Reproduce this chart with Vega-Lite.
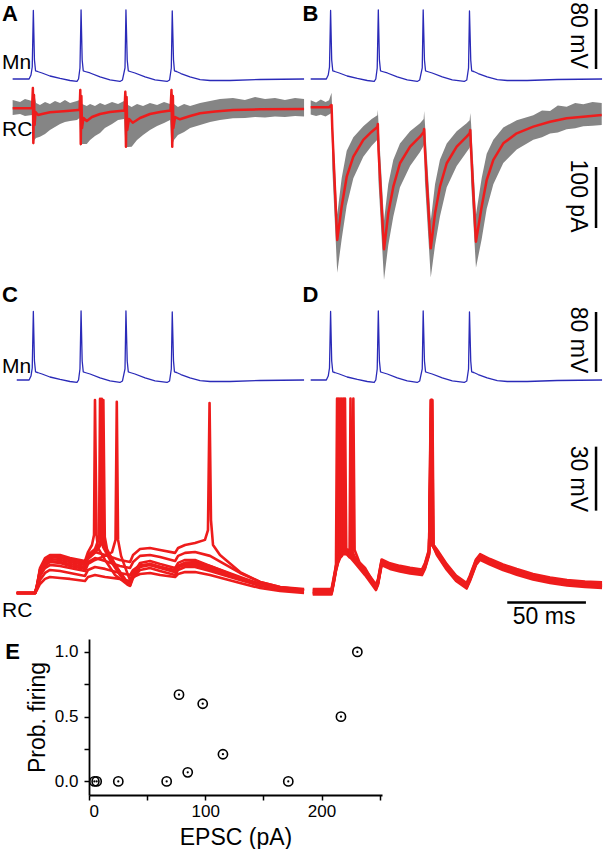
{
"$schema": "https://vega.github.io/schema/vega-lite/v6.json",
"padding": 0,
"spacing": 0,
"config": {"view": {"stroke": null}, "font": "Liberation Sans", "text": {"color": "black"}},
"datasets": {
"mnA": [{"t":8.0,"v":-65},{"t":18.4,"v":-65},{"t":19.6,"v":-59.7},{"t":20.4,"v":-49},{"t":21.1,"v":26.3},{"t":21.8,"v":-39.7},{"t":22.5,"v":-54.3},{"t":23.7,"v":-55},{"t":26.6,"v":-57},{"t":31.6,"v":-61},{"t":38.0,"v":-64.3},{"t":44.3,"v":-67},{"t":48.7,"v":-68.3},{"t":49.7,"v":-65},{"t":50.6,"v":-50.3},{"t":51.3,"v":27},{"t":52.0,"v":-39.7},{"t":52.7,"v":-54.3},{"t":53.8,"v":-55},{"t":57.0,"v":-57},{"t":63.3,"v":-62.3},{"t":69.6,"v":-66.3},{"t":75.9,"v":-68.3},{"t":77.5,"v":-66.3},{"t":79.1,"v":-50.3},{"t":79.7,"v":27},{"t":80.5,"v":-39.7},{"t":81.2,"v":-54.3},{"t":82.3,"v":-55},{"t":85.4,"v":-57},{"t":91.8,"v":-62.3},{"t":98.1,"v":-66.3},{"t":105.7,"v":-68.3},{"t":107.3,"v":-66.3},{"t":108.4,"v":-50.3},{"t":109.0,"v":25.7},{"t":109.8,"v":-39.7},{"t":110.4,"v":-54.3},{"t":111.7,"v":-55},{"t":114.5,"v":-57.7},{"t":120.2,"v":-62.3},{"t":126.6,"v":-65.7},{"t":132.9,"v":-67},{"t":145.5,"v":-67},{"t":164.5,"v":-65.7},{"t":192.4,"v":-65}],
"mnC": [{"t":10.6,"v":-65},{"t":18.4,"v":-65},{"t":19.6,"v":-59.7},{"t":20.4,"v":-49},{"t":21.1,"v":26.3},{"t":21.8,"v":-39.7},{"t":22.5,"v":-54.3},{"t":23.7,"v":-55},{"t":26.6,"v":-57},{"t":31.6,"v":-61},{"t":38.0,"v":-64.3},{"t":44.3,"v":-67},{"t":48.7,"v":-68.3},{"t":49.7,"v":-65},{"t":50.6,"v":-50.3},{"t":51.3,"v":27},{"t":52.0,"v":-39.7},{"t":52.7,"v":-54.3},{"t":53.8,"v":-55},{"t":57.0,"v":-57},{"t":63.3,"v":-62.3},{"t":69.6,"v":-66.3},{"t":75.9,"v":-68.3},{"t":77.5,"v":-66.3},{"t":79.1,"v":-50.3},{"t":79.7,"v":27},{"t":80.5,"v":-39.7},{"t":81.2,"v":-54.3},{"t":82.3,"v":-55},{"t":85.4,"v":-57},{"t":91.8,"v":-62.3},{"t":98.1,"v":-66.3},{"t":105.7,"v":-68.3},{"t":107.3,"v":-66.3},{"t":108.4,"v":-50.3},{"t":109.0,"v":25.7},{"t":109.8,"v":-39.7},{"t":110.4,"v":-54.3},{"t":111.7,"v":-55},{"t":114.5,"v":-57.7},{"t":120.2,"v":-62.3},{"t":126.6,"v":-65.7},{"t":132.9,"v":-67},{"t":145.5,"v":-67},{"t":164.5,"v":-65.7},{"t":192.4,"v":-65}],
"mnB": [{"t":3.6,"v":-65},{"t":13.5,"v":-65},{"t":14.7,"v":-59.7},{"t":15.5,"v":-49},{"t":16.2,"v":26.3},{"t":16.9,"v":-39.7},{"t":17.6,"v":-54.3},{"t":18.8,"v":-55},{"t":21.7,"v":-57},{"t":26.7,"v":-61},{"t":33.1,"v":-64.3},{"t":39.4,"v":-67},{"t":43.8,"v":-68.3},{"t":44.8,"v":-65},{"t":45.7,"v":-50.3},{"t":46.4,"v":27},{"t":47.1,"v":-39.7},{"t":47.8,"v":-54.3},{"t":48.9,"v":-55},{"t":52.1,"v":-57},{"t":58.4,"v":-62.3},{"t":64.7,"v":-66.3},{"t":71.0,"v":-68.3},{"t":72.6,"v":-66.3},{"t":74.2,"v":-50.3},{"t":74.8,"v":27},{"t":75.6,"v":-39.7},{"t":76.3,"v":-54.3},{"t":77.4,"v":-55},{"t":80.5,"v":-57},{"t":86.9,"v":-62.3},{"t":93.2,"v":-66.3},{"t":100.8,"v":-68.3},{"t":102.4,"v":-66.3},{"t":103.5,"v":-50.3},{"t":104.1,"v":25.7},{"t":104.9,"v":-39.7},{"t":105.5,"v":-54.3},{"t":106.8,"v":-55},{"t":109.6,"v":-57.7},{"t":115.3,"v":-62.3},{"t":121.7,"v":-65.7},{"t":128.0,"v":-67},{"t":140.6,"v":-67},{"t":159.6,"v":-65.7},{"t":188.0,"v":-65}],
"rcAred": [{"t":8.0,"i":-0.5},{"t":20.3,"i":0},{"t":20.8,"i":32.8},{"t":21.1,"i":-57.4},{"t":21.5,"i":21.3},{"t":21.9,"i":-27.9},{"t":22.5,"i":-6.6},{"t":24.1,"i":-11.5},{"t":26.6,"i":-9.8},{"t":31.6,"i":-7.0},{"t":38.0,"i":-5.7},{"t":42.4,"i":-4.9},{"t":49.4,"i":-3.3},{"t":50.4,"i":-3.3},{"t":50.8,"i":29.5},{"t":51.1,"i":-59.0},{"t":51.5,"i":19.7},{"t":51.9,"i":-32.8},{"t":52.8,"i":-16.4},{"t":54.9,"i":-21.3},{"t":58.2,"i":-14.8},{"t":63.3,"i":-9.8},{"t":69.6,"i":-6.6},{"t":78.8,"i":-4.1},{"t":79.3,"i":26.7},{"t":79.7,"i":-63.4},{"t":80.1,"i":18.0},{"t":80.5,"i":-36.1},{"t":81.6,"i":-18.0},{"t":84.0,"i":-24.1},{"t":88.6,"i":-16.4},{"t":94.9,"i":-9.8},{"t":101.3,"i":-6.6},{"t":107.9,"i":-4.1},{"t":108.5,"i":29.5},{"t":109.0,"i":-63.4},{"t":109.4,"i":19.7},{"t":109.7,"i":-32.8},{"t":110.8,"i":-14.8},{"t":113.9,"i":-18.5},{"t":120.3,"i":-13.1},{"t":126.6,"i":-8.7},{"t":136.1,"i":-5.7},{"t":147.5,"i":-3.3},{"t":164.6,"i":-2.1},{"t":192.4,"i":-1.6}],
"rcAgray": [{"t":8.0,"hi":13.1,"lo":-11.5},{"t":12.7,"hi":9.8,"lo":-9.8},{"t":15.8,"hi":14.8,"lo":-13.1},{"t":20.3,"hi":11.5,"lo":-11.5},{"t":20.9,"hi":36.1,"lo":-60.6},{"t":21.8,"hi":21.3,"lo":-52.4},{"t":22.8,"hi":8.2,"lo":-49.2},{"t":25.3,"hi":4.9,"lo":-47.0},{"t":28.5,"hi":9.8,"lo":-42.6},{"t":31.6,"hi":6.6,"lo":-36.1},{"t":34.8,"hi":11.5,"lo":-31.1},{"t":38.0,"hi":8.2,"lo":-26.2},{"t":41.1,"hi":13.1,"lo":-22.9},{"t":44.3,"hi":8.2,"lo":-21.3},{"t":48.7,"hi":11.5,"lo":-19.7},{"t":50.3,"hi":13.1,"lo":-16.4},{"t":50.9,"hi":32.8,"lo":-62.3},{"t":51.9,"hi":6.6,"lo":-59.0},{"t":54.9,"hi":3.3,"lo":-59.0},{"t":57.0,"hi":6.6,"lo":-52.4},{"t":60.1,"hi":3.3,"lo":-45.9},{"t":63.3,"hi":8.2,"lo":-41.0},{"t":66.4,"hi":4.9,"lo":-32.8},{"t":70.9,"hi":9.8,"lo":-26.2},{"t":74.7,"hi":6.6,"lo":-19.7},{"t":78.5,"hi":11.5,"lo":-18.0},{"t":79.4,"hi":29.5,"lo":-63.9},{"t":81.0,"hi":4.9,"lo":-63.9},{"t":83.3,"hi":1.6,"lo":-63.4},{"t":86.7,"hi":6.6,"lo":-52.4},{"t":90.5,"hi":3.3,"lo":-44.3},{"t":94.9,"hi":8.2,"lo":-36.1},{"t":99.4,"hi":4.9,"lo":-29.5},{"t":103.8,"hi":9.8,"lo":-24.6},{"t":107.6,"hi":6.6,"lo":-19.7},{"t":108.5,"hi":32.8,"lo":-63.9},{"t":110.1,"hi":6.6,"lo":-52.4},{"t":112.6,"hi":1.6,"lo":-44.3},{"t":116.5,"hi":6.6,"lo":-39.3},{"t":120.3,"hi":3.3,"lo":-32.8},{"t":126.6,"hi":8.2,"lo":-27.9},{"t":132.9,"hi":11.5,"lo":-22.9},{"t":139.2,"hi":14.8,"lo":-19.7},{"t":147.4,"hi":16.4,"lo":-16.9},{"t":155.0,"hi":13.1,"lo":-16.4},{"t":161.4,"hi":18.0,"lo":-14.8},{"t":167.7,"hi":14.8,"lo":-15.6},{"t":174.0,"hi":16.4,"lo":-13.9},{"t":180.3,"hi":13.1,"lo":-14.8},{"t":186.7,"hi":16.4,"lo":-13.1},{"t":192.4,"hi":14.8,"lo":-13.9}],
"rcBred": [{"t":3.6,"i":1.1},{"t":15.2,"i":1.1},{"t":16.8,"i":4.9},{"t":17.3,"i":-36.1},{"t":20.4,"i":-216.3},{"t":23.2,"i":-161.8},{"t":26.4,"i":-112.6},{"t":30.6,"i":-79.8},{"t":36.9,"i":-52.4},{"t":42.2,"i":-38.8},{"t":45.8,"i":-31.1},{"t":46.1,"i":-26.2},{"t":46.5,"i":-68.8},{"t":50.0,"i":-231.6},{"t":52.7,"i":-172.6},{"t":55.9,"i":-129.0},{"t":60.1,"i":-90.6},{"t":66.5,"i":-63.4},{"t":72.8,"i":-47.0},{"t":75.1,"i":-39.3},{"t":75.4,"i":-34.4},{"t":75.9,"i":-68.8},{"t":79.6,"i":-229.9},{"t":82.3,"i":-172.6},{"t":85.4,"i":-129.0},{"t":89.7,"i":-90.6},{"t":96.0,"i":-63.4},{"t":102.3,"i":-47.0},{"t":104.2,"i":-41.5},{"t":104.6,"i":-36.1},{"t":105.1,"i":-68.8},{"t":108.2,"i":-219.1},{"t":111.8,"i":-161.8},{"t":115.0,"i":-118.0},{"t":119.2,"i":-85.2},{"t":125.5,"i":-57.9},{"t":134.0,"i":-41.5},{"t":144.5,"i":-30.6},{"t":155.1,"i":-22.5},{"t":165.6,"i":-16.9},{"t":176.1,"i":-14.3},{"t":187.8,"i":-11.5}],
"rcBgray": [{"t":3.6,"hi":12.8,"lo":-10.6},{"t":7,"hi":9,"lo":-13},{"t":10,"hi":14,"lo":-11},{"t":13,"hi":10,"lo":-14},{"t":15.2,"hi":12.8,"lo":-10.6},{"t":16.8,"hi":25,"lo":-8},{"t":17.3,"hi":-10,"lo":-100},{"t":20.4,"hi":-175,"lo":-270},{"t":23.2,"hi":-115,"lo":-215},{"t":26.4,"hi":-70,"lo":-160},{"t":30.6,"hi":-48,"lo":-115},{"t":36.9,"hi":-30,"lo":-80},{"t":42.2,"hi":-18,"lo":-62},{"t":45.8,"hi":-12,"lo":-52},{"t":46.1,"hi":-3,"lo":-50},{"t":46.5,"hi":-25,"lo":-120},{"t":50.0,"hi":-185,"lo":-282},{"t":52.7,"hi":-125,"lo":-225},{"t":55.9,"hi":-85,"lo":-178},{"t":60.1,"hi":-58,"lo":-130},{"t":66.5,"hi":-38,"lo":-95},{"t":72.8,"hi":-25,"lo":-72},{"t":75.1,"hi":-18,"lo":-62},{"t":75.4,"hi":-5,"lo":-58},{"t":75.9,"hi":-25,"lo":-120},{"t":79.6,"hi":-185,"lo":-278},{"t":82.3,"hi":-125,"lo":-225},{"t":85.4,"hi":-85,"lo":-178},{"t":89.7,"hi":-58,"lo":-130},{"t":96.0,"hi":-38,"lo":-95},{"t":102.3,"hi":-25,"lo":-72},{"t":104.2,"hi":-20,"lo":-65},{"t":104.6,"hi":-8,"lo":-60},{"t":105.1,"hi":-25,"lo":-120},{"t":108.2,"hi":-175,"lo":-262},{"t":111.8,"hi":-115,"lo":-215},{"t":115.0,"hi":-75,"lo":-165},{"t":119.2,"hi":-52,"lo":-125},{"t":125.5,"hi":-32,"lo":-90},{"t":134.0,"hi":-20,"lo":-68},{"t":144.5,"hi":-12,"lo":-52},{"t":150,"hi":-4,"lo":-48},{"t":155.1,"hi":-5,"lo":-42},{"t":160,"hi":4,"lo":-40},{"t":165.6,"hi":2,"lo":-35},{"t":171,"hi":8,"lo":-33},{"t":176.1,"hi":6,"lo":-30},{"t":182,"hi":10,"lo":-29},{"t":187.8,"hi":8,"lo":-28}],
"rcC": [
{"k":1,"t":10.6,"v":-70},{"k":1,"t":22.2,"v":-70},{"k":1,"t":23.4,"v":-66.2},{"k":1,"t":25.3,"v":-59.2},{"k":1,"t":28.5,"v":-54.5},{"k":1,"t":31.6,"v":-52.6},{"k":1,"t":38.0,"v":-53.1},{"k":1,"t":44.3,"v":-54.5},{"k":1,"t":53.8,"v":-55.9},{"k":1,"t":55.7,"v":-52.2},{"k":1,"t":60.1,"v":-50.8},{"k":1,"t":66.5,"v":-52.2},{"k":1,"t":75.9,"v":-54.5},{"k":1,"t":82.3,"v":-55.5},{"k":1,"t":84.2,"v":-52.2},{"k":1,"t":88.6,"v":-49.4},{"k":1,"t":94.9,"v":-48.9},{"k":1,"t":101.3,"v":-49.8},{"k":1,"t":110.8,"v":-51.2},{"k":1,"t":112.7,"v":-48.9},{"k":1,"t":117.1,"v":-47.5},{"k":1,"t":123.4,"v":-46.6},{"k":1,"t":129.7,"v":-45.1},{"k":1,"t":131.6,"v":-40.5},{"k":1,"t":132.6,"v":19.1},{"k":1,"t":133.5,"v":-35.8},{"k":1,"t":134.8,"v":-47.5},{"k":1,"t":139.2,"v":-52.2},{"k":1,"t":151.9,"v":-60.2},{"k":1,"t":164.6,"v":-64.8},{"k":1,"t":177.2,"v":-67.2},{"k":1,"t":192.4,"v":-68.1},
{"k":2,"t":10.6,"v":-70},{"k":2,"t":22.2,"v":-70},{"k":2,"t":23.4,"v":-67.2},{"k":2,"t":25.3,"v":-61.6},{"k":2,"t":28.5,"v":-57.3},{"k":2,"t":31.6,"v":-55.5},{"k":2,"t":38.0,"v":-55.9},{"k":2,"t":44.3,"v":-57.3},{"k":2,"t":53.8,"v":-58.7},{"k":2,"t":55.7,"v":-55.5},{"k":2,"t":60.1,"v":-53.6},{"k":2,"t":66.5,"v":-55.0},{"k":2,"t":75.9,"v":-57.3},{"k":2,"t":82.3,"v":-58.3},{"k":2,"t":84.2,"v":-55.5},{"k":2,"t":88.6,"v":-52.6},{"k":2,"t":94.9,"v":-52.2},{"k":2,"t":101.3,"v":-53.1},{"k":2,"t":110.8,"v":-55.0},{"k":2,"t":112.7,"v":-52.6},{"k":2,"t":117.1,"v":-51.2},{"k":2,"t":123.4,"v":-50.8},{"k":2,"t":132.9,"v":-52.6},{"k":2,"t":151.9,"v":-60.6},{"k":2,"t":164.6,"v":-64.8},{"k":2,"t":177.2,"v":-67.2},{"k":2,"t":192.4,"v":-68.6},
{"k":3,"t":10.6,"v":-70},{"k":3,"t":22.2,"v":-70},{"k":3,"t":23.4,"v":-68.1},{"k":3,"t":25.3,"v":-63.9},{"k":3,"t":28.5,"v":-60.6},{"k":3,"t":31.6,"v":-59.2},{"k":3,"t":38.0,"v":-59.7},{"k":3,"t":44.3,"v":-60.6},{"k":3,"t":53.8,"v":-62.0},{"k":3,"t":55.7,"v":-59.2},{"k":3,"t":60.1,"v":-57.8},{"k":3,"t":66.5,"v":-58.7},{"k":3,"t":75.9,"v":-60.6},{"k":3,"t":82.3,"v":-61.6},{"k":3,"t":84.2,"v":-59.2},{"k":3,"t":88.6,"v":-56.9},{"k":3,"t":94.9,"v":-56.9},{"k":3,"t":101.3,"v":-57.8},{"k":3,"t":110.8,"v":-59.2},{"k":3,"t":112.7,"v":-57.3},{"k":3,"t":117.1,"v":-55.9},{"k":3,"t":123.4,"v":-55.5},{"k":3,"t":132.9,"v":-57.3},{"k":3,"t":151.9,"v":-63.0},{"k":3,"t":164.6,"v":-66.2},{"k":3,"t":177.2,"v":-68.1},{"k":3,"t":192.4,"v":-69.1},
{"k":4,"t":10.6,"v":-70},{"k":4,"t":22.2,"v":-70},{"k":4,"t":23.4,"v":-68.6},{"k":4,"t":25.3,"v":-65.8},{"k":4,"t":28.5,"v":-63.4},{"k":4,"t":31.6,"v":-62.5},{"k":4,"t":38.0,"v":-63.0},{"k":4,"t":44.3,"v":-63.4},{"k":4,"t":53.8,"v":-64.4},{"k":4,"t":55.7,"v":-62.5},{"k":4,"t":60.1,"v":-61.6},{"k":4,"t":66.5,"v":-62.5},{"k":4,"t":75.9,"v":-63.4},{"k":4,"t":82.3,"v":-64.4},{"k":4,"t":84.2,"v":-62.5},{"k":4,"t":88.6,"v":-61.1},{"k":4,"t":94.9,"v":-60.6},{"k":4,"t":101.3,"v":-61.6},{"k":4,"t":110.8,"v":-62.5},{"k":4,"t":112.7,"v":-61.1},{"k":4,"t":117.1,"v":-60.2},{"k":4,"t":123.4,"v":-60.2},{"k":4,"t":132.9,"v":-61.6},{"k":4,"t":151.9,"v":-65.3},{"k":4,"t":164.6,"v":-67.7},{"k":4,"t":177.2,"v":-69.1},{"k":4,"t":192.4,"v":-70.0},
{"k":5,"t":10.6,"v":-70},{"k":5,"t":22.2,"v":-70},{"k":5,"t":23.4,"v":-66.7},{"k":5,"t":25.3,"v":-58.3},{"k":5,"t":28.5,"v":-53.6},{"k":5,"t":31.6,"v":-52.2},{"k":5,"t":38.0,"v":-52.2},{"k":5,"t":44.3,"v":-53.6},{"k":5,"t":53.8,"v":-55.0},{"k":5,"t":55.7,"v":-50.8},{"k":5,"t":58.2,"v":-47.5},{"k":5,"t":59.5,"v":-42.8},{"k":5,"t":60.1,"v":20.5},{"k":5,"t":61.1,"v":-42.8},{"k":5,"t":62.0,"v":-48.9},{"k":5,"t":66.5,"v":-54.5},{"k":5,"t":72.8,"v":-61.6},{"k":5,"t":81.0,"v":-66.2},{"k":5,"t":82.3,"v":-66.7},{"k":5,"t":84.2,"v":-63.0},{"k":5,"t":88.6,"v":-59.2},{"k":5,"t":94.9,"v":-58.3},{"k":5,"t":101.3,"v":-59.7},{"k":5,"t":110.8,"v":-61.6},{"k":5,"t":112.7,"v":-59.2},{"k":5,"t":117.1,"v":-57.8},{"k":5,"t":123.4,"v":-57.8},{"k":5,"t":132.9,"v":-59.7},{"k":5,"t":151.9,"v":-63.9},{"k":5,"t":164.6,"v":-66.7},{"k":5,"t":177.2,"v":-68.1},{"k":5,"t":192.4,"v":-69.1},
{"k":6,"t":10.6,"v":-70},{"k":6,"t":22.2,"v":-70},{"k":6,"t":23.4,"v":-66.7},{"k":6,"t":25.3,"v":-59.2},{"k":6,"t":28.5,"v":-54.5},{"k":6,"t":31.6,"v":-53.1},{"k":6,"t":38.0,"v":-53.6},{"k":6,"t":44.3,"v":-54.5},{"k":6,"t":53.8,"v":-55.9},{"k":6,"t":55.7,"v":-52.2},{"k":6,"t":60.1,"v":-49.4},{"k":6,"t":62.7,"v":-44.2},{"k":6,"t":63.3,"v":21.0},{"k":6,"t":64.2,"v":-42.8},{"k":6,"t":65.2,"v":-48.4},{"k":6,"t":69.6,"v":-54.5},{"k":6,"t":75.9,"v":-61.6},{"k":6,"t":81.0,"v":-65.8},{"k":6,"t":82.3,"v":-66.2},{"k":6,"t":84.2,"v":-62.0},{"k":6,"t":88.6,"v":-57.8},{"k":6,"t":94.9,"v":-56.9},{"k":6,"t":101.3,"v":-58.3},{"k":6,"t":110.8,"v":-60.2},{"k":6,"t":112.7,"v":-57.8},{"k":6,"t":117.1,"v":-56.4},{"k":6,"t":123.4,"v":-56.4},{"k":6,"t":132.9,"v":-58.7},{"k":6,"t":151.9,"v":-63.4},{"k":6,"t":164.6,"v":-66.2},{"k":6,"t":177.2,"v":-68.1},{"k":6,"t":192.4,"v":-68.6},
{"k":7,"t":10.6,"v":-70},{"k":7,"t":22.2,"v":-70},{"k":7,"t":23.4,"v":-67.2},{"k":7,"t":25.3,"v":-60.2},{"k":7,"t":28.5,"v":-55.5},{"k":7,"t":31.6,"v":-54.1},{"k":7,"t":38.0,"v":-54.5},{"k":7,"t":44.3,"v":-55.5},{"k":7,"t":53.8,"v":-56.9},{"k":7,"t":55.7,"v":-53.1},{"k":7,"t":60.1,"v":-50.3},{"k":7,"t":63.3,"v":-47.0},{"k":7,"t":63.9,"v":-42.8},{"k":7,"t":64.4,"v":21.0},{"k":7,"t":65.2,"v":-42.8},{"k":7,"t":66.5,"v":-48.9},{"k":7,"t":69.6,"v":-52.6},{"k":7,"t":75.9,"v":-60.2},{"k":7,"t":81.0,"v":-66.2},{"k":7,"t":82.3,"v":-66.2},{"k":7,"t":84.2,"v":-61.1},{"k":7,"t":88.6,"v":-55.9},{"k":7,"t":94.9,"v":-55.0},{"k":7,"t":101.3,"v":-56.4},{"k":7,"t":110.8,"v":-58.3},{"k":7,"t":112.7,"v":-55.9},{"k":7,"t":117.1,"v":-54.5},{"k":7,"t":123.4,"v":-54.5},{"k":7,"t":132.9,"v":-57.3},{"k":7,"t":151.9,"v":-62.5},{"k":7,"t":164.6,"v":-65.8},{"k":7,"t":177.2,"v":-67.7},{"k":7,"t":192.4,"v":-68.6},
{"k":8,"t":10.6,"v":-70},{"k":8,"t":22.2,"v":-70},{"k":8,"t":23.4,"v":-67.2},{"k":8,"t":25.3,"v":-60.6},{"k":8,"t":28.5,"v":-56.4},{"k":8,"t":31.6,"v":-55.0},{"k":8,"t":38.0,"v":-55.5},{"k":8,"t":44.3,"v":-56.4},{"k":8,"t":53.8,"v":-57.8},{"k":8,"t":55.7,"v":-54.1},{"k":8,"t":60.1,"v":-51.2},{"k":8,"t":64.6,"v":-46.6},{"k":8,"t":65.4,"v":20.5},{"k":8,"t":66.3,"v":-43.7},{"k":8,"t":67.7,"v":-49.4},{"k":8,"t":72.8,"v":-56.9},{"k":8,"t":81.0,"v":-65.3},{"k":8,"t":82.3,"v":-65.8},{"k":8,"t":84.2,"v":-61.6},{"k":8,"t":88.6,"v":-57.3},{"k":8,"t":94.9,"v":-56.4},{"k":8,"t":101.3,"v":-57.8},{"k":8,"t":110.8,"v":-59.7},{"k":8,"t":112.7,"v":-57.3},{"k":8,"t":117.1,"v":-55.9},{"k":8,"t":123.4,"v":-55.9},{"k":8,"t":132.9,"v":-58.3},{"k":8,"t":151.9,"v":-63.0},{"k":8,"t":164.6,"v":-65.8},{"k":8,"t":177.2,"v":-67.7},{"k":8,"t":192.4,"v":-68.6},
{"k":9,"t":10.6,"v":-70},{"k":9,"t":22.2,"v":-70},{"k":9,"t":23.4,"v":-67.7},{"k":9,"t":25.3,"v":-62.0},{"k":9,"t":28.5,"v":-58.3},{"k":9,"t":31.6,"v":-56.9},{"k":9,"t":38.0,"v":-57.3},{"k":9,"t":44.3,"v":-58.3},{"k":9,"t":53.8,"v":-59.7},{"k":9,"t":55.7,"v":-56.4},{"k":9,"t":60.1,"v":-54.5},{"k":9,"t":66.5,"v":-52.6},{"k":9,"t":70.9,"v":-50.8},{"k":9,"t":73.1,"v":-45.1},{"k":9,"t":73.9,"v":19.6},{"k":9,"t":74.7,"v":-45.1},{"k":9,"t":76.6,"v":-52.6},{"k":9,"t":81.0,"v":-61.6},{"k":9,"t":82.3,"v":-63.9},{"k":9,"t":84.2,"v":-60.6},{"k":9,"t":88.6,"v":-57.3},{"k":9,"t":94.9,"v":-56.4},{"k":9,"t":101.3,"v":-57.8},{"k":9,"t":110.8,"v":-60.2},{"k":9,"t":112.7,"v":-57.8},{"k":9,"t":117.1,"v":-56.9},{"k":9,"t":123.4,"v":-56.9},{"k":9,"t":132.9,"v":-58.7},{"k":9,"t":151.9,"v":-63.0},{"k":9,"t":164.6,"v":-66.2},{"k":9,"t":177.2,"v":-68.1},{"k":9,"t":192.4,"v":-69.1}
],
"rcD": [
{"k":1,"t":4.9,"v":-69.3},{"k":1,"t":16.8,"v":-69.3},{"k":1,"t":18.0,"v":-64.8},{"k":1,"t":19.6,"v":-58.3},{"k":1,"t":20.3,"v":21.2},{"k":1,"t":21.1,"v":-49.8},{"k":1,"t":27.0,"v":-50.5},{"k":1,"t":31.6,"v":-54.5},{"k":1,"t":38.0,"v":-60.2},{"k":1,"t":44.9,"v":-67.2},{"k":1,"t":46.2,"v":-64.8},{"k":1,"t":48.5,"v":-55.5},{"k":1,"t":53.8,"v":-57.3},{"k":1,"t":60.1,"v":-58.5},{"k":1,"t":66.5,"v":-59.4},{"k":1,"t":74.0,"v":-60.2},{"k":1,"t":75.9,"v":-57.3},{"k":1,"t":78.5,"v":-50.8},{"k":1,"t":79.7,"v":20.4},{"k":1,"t":80.5,"v":-47.5},{"k":1,"t":83.5,"v":-50.8},{"k":1,"t":89.7,"v":-57.7},{"k":1,"t":95.6,"v":-63.0},{"k":1,"t":102.3,"v":-66.5},{"k":1,"t":104.4,"v":-63.0},{"k":1,"t":108.2,"v":-55.5},{"k":1,"t":110.8,"v":-53.0},{"k":1,"t":117.1,"v":-55.3},{"k":1,"t":125.3,"v":-57.8},{"k":1,"t":134.0,"v":-60.0},{"k":1,"t":144.3,"v":-62.3},{"k":1,"t":155.1,"v":-63.9},{"k":1,"t":165.8,"v":-65.1},{"k":1,"t":177.2,"v":-65.8},{"k":1,"t":188.0,"v":-66.2},
{"k":2,"t":4.9,"v":-70.0},{"k":2,"t":16.8,"v":-70.0},{"k":2,"t":18.0,"v":-65.5},{"k":2,"t":19.6,"v":-59.0},{"k":2,"t":20.9,"v":-55.2},{"k":2,"t":21.5,"v":21.2},{"k":2,"t":22.3,"v":-49.8},{"k":2,"t":27.0,"v":-51.2},{"k":2,"t":31.6,"v":-55.2},{"k":2,"t":38.0,"v":-60.9},{"k":2,"t":44.9,"v":-67.9},{"k":2,"t":46.2,"v":-65.5},{"k":2,"t":48.5,"v":-56.2},{"k":2,"t":53.8,"v":-58.0},{"k":2,"t":60.1,"v":-59.2},{"k":2,"t":66.5,"v":-60.1},{"k":2,"t":74.0,"v":-60.9},{"k":2,"t":75.9,"v":-58.0},{"k":2,"t":78.5,"v":-51.5},{"k":2,"t":80.1,"v":20.4},{"k":2,"t":80.9,"v":-47.5},{"k":2,"t":83.5,"v":-51.5},{"k":2,"t":89.7,"v":-58.4},{"k":2,"t":95.6,"v":-63.7},{"k":2,"t":102.3,"v":-67.2},{"k":2,"t":104.4,"v":-63.7},{"k":2,"t":108.2,"v":-56.2},{"k":2,"t":110.8,"v":-53.7},{"k":2,"t":117.1,"v":-56.0},{"k":2,"t":125.3,"v":-58.5},{"k":2,"t":134.0,"v":-60.7},{"k":2,"t":144.3,"v":-63.0},{"k":2,"t":155.1,"v":-64.6},{"k":2,"t":165.8,"v":-65.8},{"k":2,"t":177.2,"v":-66.5},{"k":2,"t":188.0,"v":-66.9},
{"k":3,"t":4.9,"v":-68.6},{"k":3,"t":16.8,"v":-68.6},{"k":3,"t":18.0,"v":-64.1},{"k":3,"t":19.6,"v":-57.6},{"k":3,"t":20.9,"v":-53.8},{"k":3,"t":22.2,"v":-51.5},{"k":3,"t":22.8,"v":21.2},{"k":3,"t":23.6,"v":-49.8},{"k":3,"t":27.0,"v":-49.8},{"k":3,"t":31.6,"v":-53.8},{"k":3,"t":38.0,"v":-59.5},{"k":3,"t":44.9,"v":-66.5},{"k":3,"t":46.2,"v":-64.1},{"k":3,"t":48.5,"v":-54.8},{"k":3,"t":53.8,"v":-56.6},{"k":3,"t":60.1,"v":-57.8},{"k":3,"t":66.5,"v":-58.7},{"k":3,"t":74.0,"v":-59.5},{"k":3,"t":75.9,"v":-56.6},{"k":3,"t":78.5,"v":-50.1},{"k":3,"t":80.4,"v":20.4},{"k":3,"t":81.2,"v":-47.5},{"k":3,"t":83.5,"v":-50.1},{"k":3,"t":89.7,"v":-57.0},{"k":3,"t":95.6,"v":-62.3},{"k":3,"t":102.3,"v":-65.8},{"k":3,"t":104.4,"v":-62.3},{"k":3,"t":108.2,"v":-54.8},{"k":3,"t":110.8,"v":-52.3},{"k":3,"t":117.1,"v":-54.6},{"k":3,"t":125.3,"v":-57.1},{"k":3,"t":134.0,"v":-59.3},{"k":3,"t":144.3,"v":-61.6},{"k":3,"t":155.1,"v":-63.2},{"k":3,"t":165.8,"v":-64.4},{"k":3,"t":177.2,"v":-65.1},{"k":3,"t":188.0,"v":-65.5},
{"k":4,"t":4.9,"v":-70.7},{"k":4,"t":16.8,"v":-70.7},{"k":4,"t":18.0,"v":-66.2},{"k":4,"t":19.6,"v":-59.7},{"k":4,"t":20.9,"v":-55.9},{"k":4,"t":22.2,"v":-53.6},{"k":4,"t":23.4,"v":-52.6},{"k":4,"t":24.1,"v":21.2},{"k":4,"t":24.9,"v":-49.8},{"k":4,"t":27.0,"v":-51.9},{"k":4,"t":31.6,"v":-55.9},{"k":4,"t":38.0,"v":-61.6},{"k":4,"t":44.9,"v":-68.6},{"k":4,"t":46.2,"v":-66.2},{"k":4,"t":48.5,"v":-56.9},{"k":4,"t":53.8,"v":-58.7},{"k":4,"t":60.1,"v":-59.9},{"k":4,"t":66.5,"v":-60.8},{"k":4,"t":74.0,"v":-61.6},{"k":4,"t":75.9,"v":-58.7},{"k":4,"t":78.5,"v":-52.2},{"k":4,"t":79.9,"v":20.4},{"k":4,"t":80.7,"v":-47.5},{"k":4,"t":83.5,"v":-52.2},{"k":4,"t":89.7,"v":-59.1},{"k":4,"t":95.6,"v":-64.4},{"k":4,"t":102.3,"v":-67.9},{"k":4,"t":104.4,"v":-64.4},{"k":4,"t":108.2,"v":-56.9},{"k":4,"t":110.8,"v":-54.4},{"k":4,"t":117.1,"v":-56.7},{"k":4,"t":125.3,"v":-59.2},{"k":4,"t":134.0,"v":-61.4},{"k":4,"t":144.3,"v":-63.7},{"k":4,"t":155.1,"v":-65.3},{"k":4,"t":165.8,"v":-66.5},{"k":4,"t":177.2,"v":-67.2},{"k":4,"t":188.0,"v":-67.6},
{"k":5,"t":4.9,"v":-68.1},{"k":5,"t":16.8,"v":-68.1},{"k":5,"t":18.0,"v":-63.6},{"k":5,"t":19.6,"v":-57.1},{"k":5,"t":20.9,"v":-53.3},{"k":5,"t":22.2,"v":-51.0},{"k":5,"t":23.4,"v":-50.0},{"k":5,"t":24.7,"v":-49.6},{"k":5,"t":25.3,"v":21.2},{"k":5,"t":26.1,"v":-49.8},{"k":5,"t":27.5,"v":-49.8},{"k":5,"t":31.6,"v":-53.3},{"k":5,"t":38.0,"v":-59.0},{"k":5,"t":44.9,"v":-66.0},{"k":5,"t":46.2,"v":-63.6},{"k":5,"t":48.5,"v":-54.3},{"k":5,"t":53.8,"v":-56.1},{"k":5,"t":60.1,"v":-57.3},{"k":5,"t":66.5,"v":-58.2},{"k":5,"t":74.0,"v":-59.0},{"k":5,"t":75.9,"v":-56.1},{"k":5,"t":78.5,"v":-49.6},{"k":5,"t":80.6,"v":20.4},{"k":5,"t":81.4,"v":-47.5},{"k":5,"t":83.5,"v":-49.6},{"k":5,"t":89.7,"v":-56.5},{"k":5,"t":95.6,"v":-61.8},{"k":5,"t":102.3,"v":-65.3},{"k":5,"t":104.4,"v":-61.8},{"k":5,"t":108.2,"v":-54.3},{"k":5,"t":110.8,"v":-51.8},{"k":5,"t":117.1,"v":-54.1},{"k":5,"t":125.3,"v":-56.6},{"k":5,"t":134.0,"v":-58.8},{"k":5,"t":144.3,"v":-61.1},{"k":5,"t":155.1,"v":-62.7},{"k":5,"t":165.8,"v":-63.9},{"k":5,"t":177.2,"v":-64.6},{"k":5,"t":188.0,"v":-65.0},
{"k":6,"t":4.9,"v":-70.2},{"k":6,"t":16.8,"v":-70.2},{"k":6,"t":18.0,"v":-65.7},{"k":6,"t":19.6,"v":-59.2},{"k":6,"t":20.9,"v":-55.4},{"k":6,"t":22.2,"v":-53.1},{"k":6,"t":23.4,"v":-52.1},{"k":6,"t":24.7,"v":-51.7},{"k":6,"t":26.6,"v":-52.0},{"k":6,"t":28.2,"v":-53.3},{"k":6,"t":28.8,"v":21.2},{"k":6,"t":29.6,"v":-49.8},{"k":6,"t":33.0,"v":-55.9},{"k":6,"t":38.0,"v":-59.9},{"k":6,"t":44.9,"v":-68.1},{"k":6,"t":46.2,"v":-65.7},{"k":6,"t":48.5,"v":-56.4},{"k":6,"t":53.8,"v":-58.2},{"k":6,"t":60.1,"v":-59.4},{"k":6,"t":66.5,"v":-60.3},{"k":6,"t":74.0,"v":-61.1},{"k":6,"t":75.9,"v":-58.2},{"k":6,"t":78.5,"v":-51.7},{"k":6,"t":80.2,"v":20.4},{"k":6,"t":81.0,"v":-47.5},{"k":6,"t":83.5,"v":-51.7},{"k":6,"t":89.7,"v":-58.6},{"k":6,"t":95.6,"v":-63.9},{"k":6,"t":102.3,"v":-67.4},{"k":6,"t":104.4,"v":-63.9},{"k":6,"t":108.2,"v":-56.4},{"k":6,"t":110.8,"v":-53.9},{"k":6,"t":117.1,"v":-56.2},{"k":6,"t":125.3,"v":-58.7},{"k":6,"t":134.0,"v":-60.9},{"k":6,"t":144.3,"v":-63.2},{"k":6,"t":155.1,"v":-64.8},{"k":6,"t":165.8,"v":-66.0},{"k":6,"t":177.2,"v":-66.7},{"k":6,"t":188.0,"v":-67.1},
{"k":7,"t":4.9,"v":-69.5},{"k":7,"t":16.8,"v":-69.5},{"k":7,"t":18.0,"v":-65.0},{"k":7,"t":19.6,"v":-58.5},{"k":7,"t":20.9,"v":-54.7},{"k":7,"t":22.2,"v":-52.4},{"k":7,"t":23.4,"v":-51.4},{"k":7,"t":24.7,"v":-51.0},{"k":7,"t":26.6,"v":-51.3},{"k":7,"t":28.2,"v":-52.6},{"k":7,"t":29.9,"v":-53.8},{"k":7,"t":30.6,"v":21.2},{"k":7,"t":31.4,"v":-49.8},{"k":7,"t":34.5,"v":-55.7},{"k":7,"t":38.0,"v":-58.2},{"k":7,"t":44.9,"v":-67.4},{"k":7,"t":46.2,"v":-65.0},{"k":7,"t":48.5,"v":-55.7},{"k":7,"t":53.8,"v":-57.5},{"k":7,"t":60.1,"v":-58.7},{"k":7,"t":66.5,"v":-59.6},{"k":7,"t":74.0,"v":-60.4},{"k":7,"t":75.9,"v":-57.5},{"k":7,"t":78.5,"v":-51.0},{"k":7,"t":79.6,"v":20.4},{"k":7,"t":80.4,"v":-47.5},{"k":7,"t":83.5,"v":-51.0},{"k":7,"t":89.7,"v":-57.9},{"k":7,"t":95.6,"v":-63.2},{"k":7,"t":102.3,"v":-66.7},{"k":7,"t":104.4,"v":-63.2},{"k":7,"t":108.2,"v":-55.7},{"k":7,"t":110.8,"v":-53.2},{"k":7,"t":117.1,"v":-55.5},{"k":7,"t":125.3,"v":-58.0},{"k":7,"t":134.0,"v":-60.2},{"k":7,"t":144.3,"v":-62.5},{"k":7,"t":155.1,"v":-64.1},{"k":7,"t":165.8,"v":-65.3},{"k":7,"t":177.2,"v":-66.0},{"k":7,"t":188.0,"v":-66.4}
],
"prob": [{"epsc":4.6,"p":0},{"epsc":6.6,"p":0},{"epsc":25.2,"p":0},{"epsc":66.8,"p":0},{"epsc":77.4,"p":0.67},{"epsc":84.9,"p":0.07},{"epsc":97.8,"p":0.6},{"epsc":115.2,"p":0.21},{"epsc":171.4,"p":0},{"epsc":216.7,"p":0.5},{"epsc":230.8,"p":1.0}]
},
"vconcat": [
{"hconcat": [
 {"width": 305, "height": 283,
  "encoding": {"x": {"field": "t", "type": "quantitative", "scale": {"domain": [0, 193], "nice": false, "zero": false}, "axis": null}},
  "layer": [
   {"data": {"name": "mnA"}, "mark": {"type": "line", "color": "#2a2ab8", "strokeWidth": 1.3, "strokeJoin": "round"},
    "encoding": {"y": {"field": "v", "type": "quantitative", "scale": {"domain": [-337.0, 40.33], "nice": false, "zero": false}, "axis": null}}},
   {"data": {"name": "rcAgray"}, "mark": {"type": "area", "color": "#858585", "opacity": 1},
    "encoding": {"y": {"field": "hi", "type": "quantitative", "scale": {"domain": [-286.88, 177.05], "nice": false, "zero": false}, "axis": null}, "y2": {"field": "lo"}}},
   {"data": {"name": "rcAred"}, "mark": {"type": "line", "color": "#ee1c1c", "strokeWidth": 2.5, "strokeJoin": "round"},
    "encoding": {"y": {"field": "i", "type": "quantitative", "scale": {"domain": [-286.88, 177.05], "nice": false, "zero": false}, "axis": null}}},
   {"data": {"values": [{"t": 1.3, "v": 22.3, "s": "A"}]}, "mark": {"type": "text", "fontSize": 22, "fontWeight": "bold", "align": "left", "baseline": "middle"},
    "encoding": {"y": {"field": "v", "type": "quantitative", "scale": {"domain": [-337.0, 40.33], "nice": false, "zero": false}, "axis": null}, "text": {"field": "s"}}},
   {"data": {"values": [{"t": 1.3, "v": -43.7, "s": "Mn"}]}, "mark": {"type": "text", "fontSize": 21, "align": "left", "baseline": "middle"},
    "encoding": {"y": {"field": "v", "type": "quantitative", "scale": {"domain": [-337.0, 40.33], "nice": false, "zero": false}, "axis": null}, "text": {"field": "s"}}},
   {"data": {"values": [{"t": 1.3, "i": -36.1, "s": "RC"}]}, "mark": {"type": "text", "fontSize": 21, "align": "left", "baseline": "middle"},
    "encoding": {"y": {"field": "i", "type": "quantitative", "scale": {"domain": [-286.88, 177.05], "nice": false, "zero": false}, "axis": null}, "text": {"field": "s"}}}
  ],
  "resolve": {"scale": {"y": "independent"}}
 },
 {"width": 301, "height": 283,
  "encoding": {"x": {"field": "t", "type": "quantitative", "scale": {"domain": [0, 190.5], "nice": false, "zero": false}, "axis": null}},
  "layer": [
   {"data": {"name": "mnB"}, "mark": {"type": "line", "color": "#2a2ab8", "strokeWidth": 1.3, "strokeJoin": "round"},
    "encoding": {"y": {"field": "v", "type": "quantitative", "scale": {"domain": [-337.0, 40.33], "nice": false, "zero": false}, "axis": null}}},
   {"data": {"name": "rcBgray"}, "mark": {"type": "area", "color": "#858585", "opacity": 1},
    "encoding": {"y": {"field": "hi", "type": "quantitative", "scale": {"domain": [-286.88, 177.05], "nice": false, "zero": false}, "axis": null}, "y2": {"field": "lo"}}},
   {"data": {"name": "rcBred"}, "mark": {"type": "line", "color": "#ee1c1c", "strokeWidth": 2.5, "strokeJoin": "round"},
    "encoding": {"y": {"field": "i", "type": "quantitative", "scale": {"domain": [-286.88, 177.05], "nice": false, "zero": false}, "axis": null}}},
   {"data": {"values": [{"t": -1.6, "v": 22.3, "s": "B"}]}, "mark": {"type": "text", "fontSize": 22, "fontWeight": "bold", "align": "left", "baseline": "middle"},
    "encoding": {"y": {"field": "v", "type": "quantitative", "scale": {"domain": [-337.0, 40.33], "nice": false, "zero": false}, "axis": null}, "text": {"field": "s"}}},
   {"data": {"values": [{"t": 184.2, "v": 28.3, "v2": -51.7}]}, "mark": {"type": "rule", "color": "black", "strokeWidth": 2.5},
    "encoding": {"y": {"field": "v", "type": "quantitative", "scale": {"domain": [-337.0, 40.33], "nice": false, "zero": false}, "axis": null}, "y2": {"field": "v2"}}},
   {"data": {"values": [{"t": 172.8, "v": -7.0, "s": "80 mV"}]}, "mark": {"type": "text", "fontSize": 23, "angle": 90, "align": "center", "baseline": "middle"},
    "encoding": {"y": {"field": "v", "type": "quantitative", "scale": {"domain": [-337.0, 40.33], "nice": false, "zero": false}, "axis": null}, "text": {"field": "s"}}},
   {"data": {"values": [{"t": 184.2, "i": -96.7, "i2": -196.7}]}, "mark": {"type": "rule", "color": "black", "strokeWidth": 2.5},
    "encoding": {"y": {"field": "i", "type": "quantitative", "scale": {"domain": [-286.88, 177.05], "nice": false, "zero": false}, "axis": null}, "y2": {"field": "i2"}}},
   {"data": {"values": [{"t": 172.8, "i": -144.3, "s": "100 pA"}]}, "mark": {"type": "text", "fontSize": 23, "angle": 90, "align": "center", "baseline": "middle"},
    "encoding": {"y": {"field": "i", "type": "quantitative", "scale": {"domain": [-286.88, 177.05], "nice": false, "zero": false}, "axis": null}, "text": {"field": "s"}}}
  ],
  "resolve": {"scale": {"y": "independent"}}
 }
], "spacing": 0, "bounds": "flush"},
{"hconcat": [
 {"width": 305, "height": 356,
  "encoding": {"x": {"field": "t", "type": "quantitative", "scale": {"domain": [0, 193], "nice": false, "zero": false}, "axis": null}},
  "layer": [
   {"data": {"name": "mnC"}, "mark": {"type": "line", "color": "#2a2ab8", "strokeWidth": 1.3, "strokeJoin": "round"},
    "encoding": {"y": {"field": "v", "type": "quantitative", "scale": {"domain": [-410.33, 64.33], "nice": false, "zero": false}, "axis": null}}},
   {"data": {"name": "rcC"}, "mark": {"type": "line", "color": "#ee1c1c", "strokeWidth": 2.6, "strokeJoin": "round"},
    "encoding": {"y": {"field": "v", "type": "quantitative", "scale": {"domain": [-91.57, 75.33], "nice": false, "zero": false}, "axis": null}, "detail": {"field": "k"}}},
   {"data": {"values": [{"t": 1.3, "v": 48.3, "s": "C"}]}, "mark": {"type": "text", "fontSize": 22, "fontWeight": "bold", "align": "left", "baseline": "middle"},
    "encoding": {"y": {"field": "v", "type": "quantitative", "scale": {"domain": [-410.33, 64.33], "nice": false, "zero": false}, "axis": null}, "text": {"field": "s"}}},
   {"data": {"values": [{"t": 1.3, "v": -48.3, "s": "Mn"}]}, "mark": {"type": "text", "fontSize": 21, "align": "left", "baseline": "middle"},
    "encoding": {"y": {"field": "v", "type": "quantitative", "scale": {"domain": [-410.33, 64.33], "nice": false, "zero": false}, "axis": null}, "text": {"field": "s"}}},
   {"data": {"values": [{"t": 1.3, "v": -78.4, "s": "RC"}]}, "mark": {"type": "text", "fontSize": 21, "align": "left", "baseline": "middle"},
    "encoding": {"y": {"field": "v", "type": "quantitative", "scale": {"domain": [-91.57, 75.33], "nice": false, "zero": false}, "axis": null}, "text": {"field": "s"}}}
  ],
  "resolve": {"scale": {"y": "independent"}}
 },
 {"width": 301, "height": 356,
  "encoding": {"x": {"field": "t", "type": "quantitative", "scale": {"domain": [0, 190.5], "nice": false, "zero": false}, "axis": null}},
  "layer": [
   {"data": {"name": "mnB"}, "mark": {"type": "line", "color": "#2a2ab8", "strokeWidth": 1.3, "strokeJoin": "round"},
    "encoding": {"y": {"field": "v", "type": "quantitative", "scale": {"domain": [-410.33, 64.33], "nice": false, "zero": false}, "axis": null}}},
   {"data": {"name": "rcD"}, "mark": {"type": "line", "color": "#ee1c1c", "strokeWidth": 2.6, "strokeJoin": "round"},
    "encoding": {"y": {"field": "v", "type": "quantitative", "scale": {"domain": [-91.57, 75.33], "nice": false, "zero": false}, "axis": null}, "detail": {"field": "k"}}},
   {"data": {"values": [{"t": -1.6, "v": 48.3, "s": "D"}]}, "mark": {"type": "text", "fontSize": 22, "fontWeight": "bold", "align": "left", "baseline": "middle"},
    "encoding": {"y": {"field": "v", "type": "quantitative", "scale": {"domain": [-410.33, 64.33], "nice": false, "zero": false}, "axis": null}, "text": {"field": "s"}}},
   {"data": {"values": [{"t": 184.2, "v": 25.7, "v2": -54.3}]}, "mark": {"type": "rule", "color": "black", "strokeWidth": 2.5},
    "encoding": {"y": {"field": "v", "type": "quantitative", "scale": {"domain": [-410.33, 64.33], "nice": false, "zero": false}, "axis": null}, "y2": {"field": "v2"}}},
   {"data": {"values": [{"t": 172.8, "v": -11.7, "s": "80 mV"}]}, "mark": {"type": "text", "fontSize": 23, "angle": 90, "align": "center", "baseline": "middle"},
    "encoding": {"y": {"field": "v", "type": "quantitative", "scale": {"domain": [-410.33, 64.33], "nice": false, "zero": false}, "axis": null}, "text": {"field": "s"}}},
   {"data": {"values": [{"t": 184.2, "v": -1.4, "v2": -31.4}]}, "mark": {"type": "rule", "color": "black", "strokeWidth": 2.5},
    "encoding": {"y": {"field": "v", "type": "quantitative", "scale": {"domain": [-91.57, 75.33], "nice": false, "zero": false}, "axis": null}, "y2": {"field": "v2"}}},
   {"data": {"values": [{"t": 128.0, "t2": 177.8, "v": -74.5}]}, "mark": {"type": "rule", "color": "black", "strokeWidth": 2.5},
    "encoding": {"x2": {"field": "t2"}, "y": {"field": "v", "type": "quantitative", "scale": {"domain": [-91.57, 75.33], "nice": false, "zero": false}, "axis": null}}},
   {"data": {"values": [{"t": 172.8, "v": -16.5, "s": "30 mV"}]}, "mark": {"type": "text", "fontSize": 23, "angle": 90, "align": "center", "baseline": "middle"},
    "encoding": {"y": {"field": "v", "type": "quantitative", "scale": {"domain": [-91.57, 75.33], "nice": false, "zero": false}, "axis": null}, "text": {"field": "s"}}},
   {"data": {"values": [{"t": 151.3, "v": -81.3, "s": "50 ms"}]}, "mark": {"type": "text", "fontSize": 23, "align": "center", "baseline": "middle"},
    "encoding": {"y": {"field": "v", "type": "quantitative", "scale": {"domain": [-91.57, 75.33], "nice": false, "zero": false}, "axis": null}, "text": {"field": "s"}}}
  ],
  "resolve": {"scale": {"y": "independent"}}
 }
], "spacing": 0, "bounds": "flush"},
{"hconcat": [
 {"width": 89, "height": 156, "data": {"values": []}, "mark": {"type": "point", "opacity": 0}},
 {"width": 293, "height": 156,
  "data": {"name": "prob"},
  "encoding": {
   "x": {"field": "epsc", "type": "quantitative", "scale": {"domain": [0, 252], "nice": false, "zero": false},
    "axis": {"values": [0, 50, 100, 150, 200, 250], "labelExpr": "datum.value % 100 === 0 ? datum.label : ''", "title": "EPSC (pA)", "grid": false, "tickSize": 5, "tickWidth": 1.5, "domainWidth": 1.8, "domainColor": "black", "tickColor": "black", "labelColor": "black", "titleColor": "black", "labelFontSize": 17, "titleFontSize": 23, "titleFontWeight": "normal", "labelPadding": 3, "titlePadding": 7, "labelFont": "Liberation Sans", "titleFont": "Liberation Sans"}},
   "y": {"field": "p", "type": "quantitative", "scale": {"domain": [-0.105, 1.1], "nice": false, "zero": false},
    "axis": {"values": [0, 0.25, 0.5, 0.75, 1], "format": ".1f", "labelExpr": "(datum.value === 0.25 || datum.value === 0.75) ? '' : datum.label", "title": "Prob. firing", "grid": false, "tickSize": 5, "tickWidth": 1.5, "domainWidth": 1.8, "domainColor": "black", "tickColor": "black", "labelColor": "black", "titleColor": "black", "labelFontSize": 17, "titleFontSize": 23, "titleFontWeight": "normal", "labelPadding": 6, "titlePadding": 5, "labelFont": "Liberation Sans", "titleFont": "Liberation Sans"}}
  },
  "layer": [
   {"mark": {"type": "point", "shape": "circle", "filled": false, "color": "black", "strokeWidth": 1.6, "size": 85, "opacity": 1}},
   {"mark": {"type": "point", "shape": "circle", "filled": true, "color": "black", "size": 5, "opacity": 1}},
   {"data": {"values": [{"epsc": -72, "p": 1.0, "s": "E"}]}, "mark": {"type": "text", "fontSize": 22, "fontWeight": "bold", "align": "left", "baseline": "middle"},
    "encoding": {"text": {"field": "s"}}}
  ]
 }
], "spacing": 0, "bounds": "flush"}
]
}
